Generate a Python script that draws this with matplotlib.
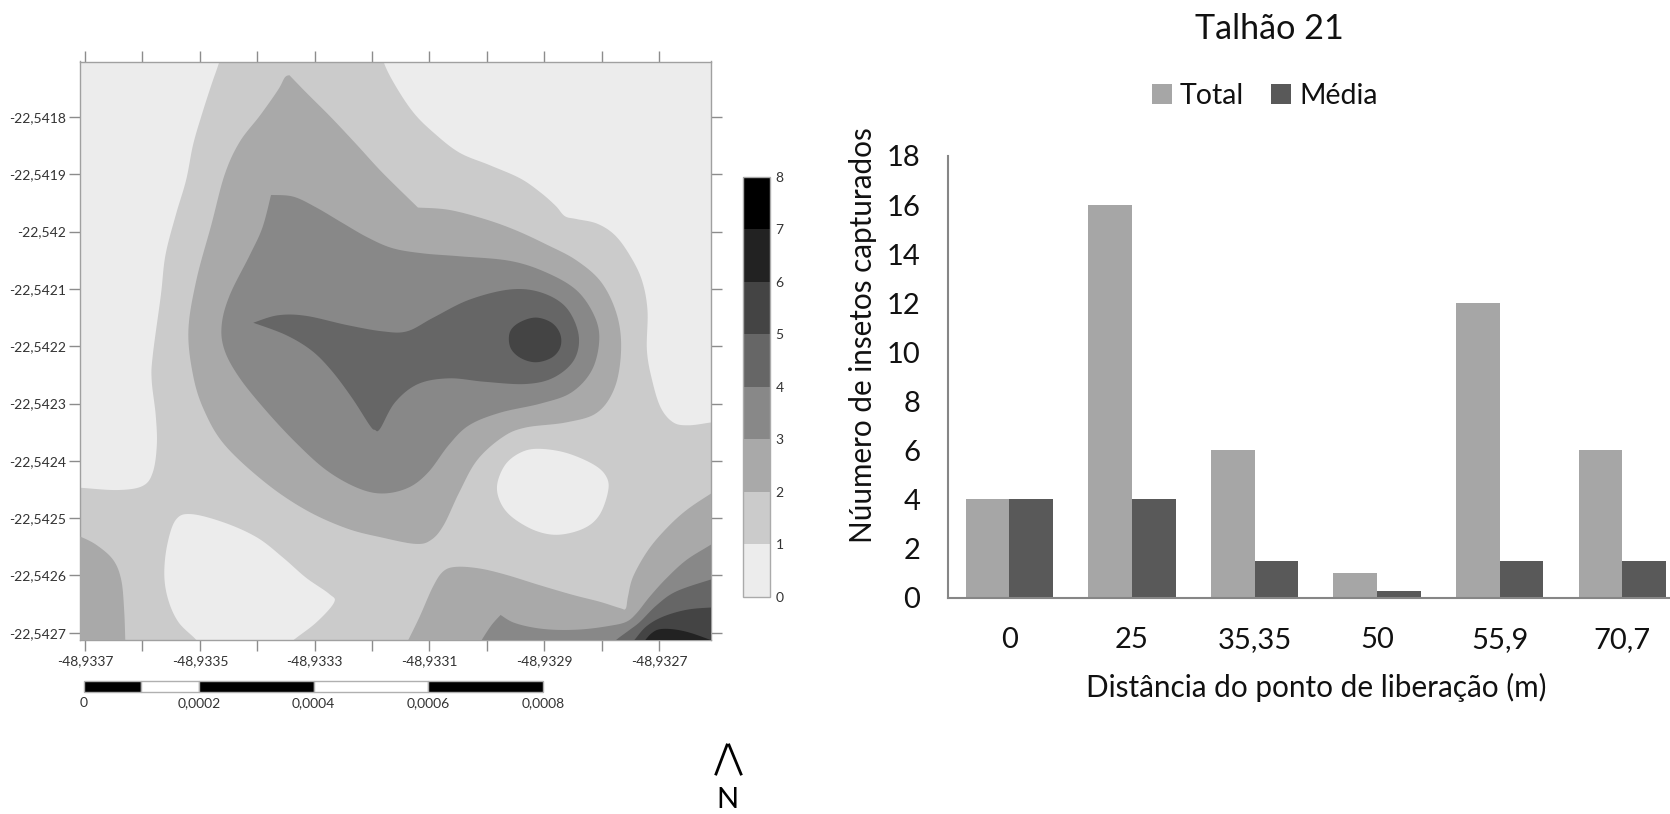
import numpy as np
import matplotlib
matplotlib.use("Agg")
import matplotlib.pyplot as plt
from matplotlib.colors import ListedColormap, BoundaryNorm
from matplotlib.cm import ScalarMappable
from matplotlib.lines import Line2D

plt.rcParams['font.family'] = ['Lato', 'DejaVu Sans']

W, H = 1670, 814

# ---------- bar chart data ----------
distances = ['0', '25', '35,35', '50', '55,9', '70,7']
total = [4, 16, 6, 1, 12, 6]
media = [4, 4, 1.5, 0.25, 1.5, 1.5]

# ---------- map data ----------
LON0, LAT0 = -48.9337, -22.5418   # isoline vertices: millionths of a degree east / south of this origin
lon_labels = {-48.9337: '-48,9337', -48.9335: '-48,9335', -48.9333: '-48,9333',
              -48.9331: '-48,9331', -48.9329: '-48,9329', -48.9327: '-48,9327'}
lon_ticks = [-48.9337, -48.9336, -48.9335, -48.9334, -48.9333, -48.9332,
             -48.9331, -48.9330, -48.9329, -48.9328, -48.9327]
lat_ticks = [-22.5418, -22.5419, -22.5420, -22.5421, -22.5422,
             -22.5423, -22.5424, -22.5425, -22.5426, -22.5427]
lat_labels = ['-22,5418', '-22,5419', '-22,542', '-22,5421', '-22,5422',
              '-22,5423', '-22,5424', '-22,5425', '-22,5426', '-22,5427']
level_edges = [0, 1, 2, 3, 4, 5, 6, 7, 8]
level_colors = ['#ececec', '#cbcbcb', '#a9a9a9', '#888888', '#666666', '#444444', '#222222', '#000000']

below1_nw = [(243,-134),(234,-97),(220,-56),(203,-3),(188,49),(176,110),(158,171),(140,241),(132,311),
             (118,415),(116,459),(123,520),(125,572),(118,620),(100,644),(56,651),(-9,647),(-30,647),(-30,-120)]
below1_ne = [(514,-134),(520,-97),(540,-56),(572,-8),(607,27),(652,62),(705,84),(758,107),(794,132),(820,155),
             (836,173),(856,178),(892,186),(923,206),(949,241),(970,284),(980,337),(979,407),(988,459),(1003,507),
             (1025,533),(1052,538),(1091,533),(1123,529),(1123,-134)]
below1_mid = [(789,579),(838,586),(887,607),(909,629),(911,655),(896,695),(869,718),(825,729),(785,722),
              (745,699),(724,673),(718,642),(732,607),(758,586)]
below1_sw = [(185,693),(158,703),(143,747),(138,799),(145,843),(163,882),(194,913),(207,935),(340,935),(363,913),
             (403,882),(434,847),(425,832),(385,804),(345,769),(300,734),(243,708)]

above2_main = [(356,-73),(356,-73),(385,-43),(429,1),(474,49),(518,97),(580,158),(580,158),(634,162),(696,178),(749,197),
               (803,222),(856,250),(900,289),(927,346),(934,407),(923,472),(892,516),(838,533),(767,542),(727,559),
               (683,599),(652,655),(625,712),(603,738),(576,745),(518,734),(456,718),(385,686),(314,638),(243,572),
               (207,511),(188,450),(180,372),(194,284),(220,188),(243,101),(269,44),(305,-3),(336,-47),(348,-69)]
above2_sw = [(-30,725),(-9,732),(20,747),(49,773),(63,808),(68,860),(70,913),(71,939),(-30,939)]
above2_se = [(554,930),(563,913),(583,872),(606,820),(624,793),(647,785),(688,788),(734,799),(792,817),(850,834),
             (897,846),(932,857),(942,858),(946,837),(955,802),(981,756),(1013,718),(1048,686),(1091,657),(1129,634),
             (1129,950),(554,950)]

above3_main = [(324,136),(324,136),(363,139),(403,158),(447,184),(492,210),(536,229),(589,238),(652,243),(740,251),(803,271),
               (856,302),(887,346),(896,389),(883,442),(847,481),(794,500),(723,516),(669,538),(634,572),(598,620),
               (563,647),(518,657),(474,647),(420,616),(367,568),(314,511),(269,455),(243,407),(238,363),(252,311),
               (287,241),(309,193)]
above3_se = [(682,930),(691,913),(708,887),(724,869),(724,869),(746,882),(781,891),(821,895),(868,894),(914,888),(943,881),
             (961,866),(984,837),(1013,805),(1048,773),(1091,746),(1129,721),(1129,950),(682,950)]

above4_main = [(293,359),(293,359),(336,346),(385,347),(456,363),(518,374),(561,374),(607,350),(669,319),(740,301),(794,306),
               (838,332),(860,380),(852,424),(816,455),(767,466),(696,462),(634,456),(580,466),(540,498),(514,544),
               (505,546),(496,538),(465,490),(429,442),(394,407),(349,380)]
above4_se = [(908,930),(925,913),(949,895),(967,881),(996,852),(1030,828),(1091,807),(1129,796),(1129,950),(908,950)]

above5_oval = [(785,350),(813,359),(828,379),(828,402),(813,420),(785,428),(758,420),(741,402),(740,376),(756,359)]
above5_se = [(943,930),(957,913),(978,889),(1007,872),(1048,860),(1091,856),(1129,855),(1129,950),(943,950)]

above6_se = [(967,924),(976,913),(987,901),(1001,894),(1025,894),(1054,900),(1091,913),(1129,927),(1129,950),(967,950)]

scale_edges = [0, 0.0001, 0.0002, 0.0004, 0.0006, 0.0008]
scale_fills = ['black', 'white', 'black', 'white', 'black']
scale_ticks = [0, 0.0002, 0.0004, 0.0006, 0.0008]
scale_labels = ['0', '0,0002', '0,0004', '0,0006', '0,0008']


def box(l, t, r, b):
    return [l / W, 1 - b / H, (r - l) / W, (b - t) / H]


def smooth(pts, n=10):
    # Closed Catmull-Rom curve through the vertices; a repeated vertex stays a sharp corner.
    p = np.asarray(pts, float)
    m = len(p)
    out = []
    for i in range(m):
        p0, p1, p2, p3 = p[i - 1], p[i], p[(i + 1) % m], p[(i + 2) % m]
        if np.array_equal(p1, p2):
            out.append(p1)
            continue
        for t in np.linspace(0, 1, n, endpoint=False):
            out.append(0.5 * (2 * p1 + (p2 - p0) * t + (2 * p0 - 5 * p1 + 4 * p2 - p3) * t ** 2
                              + (3 * p1 - p0 - 3 * p2 + p3) * t ** 3))
    return np.array(out)


fig = plt.figure(figsize=(W / 100, H / 100), dpi=100, facecolor='white')

# ---------- map ----------
ax = fig.add_axes(box(80, 61.5, 711, 640))
ax.set_facecolor(level_colors[1])
layers = [
    (level_colors[0], [below1_nw, below1_ne, below1_mid, below1_sw]),
    (level_colors[2], [above2_main, above2_sw, above2_se]),
    (level_colors[3], [above3_main, above3_se]),
    (level_colors[4], [above4_main, above4_se]),
    (level_colors[5], [above5_oval, above5_se]),
    (level_colors[6], [above6_se]),
]
for z, (color, polys) in enumerate(layers):
    for poly in polys:
        s = smooth(poly)
        ax.fill(LON0 + s[:, 0] * 1e-6, LAT0 - s[:, 1] * 1e-6, color=color, lw=0, zorder=2 + z)

ax.set_xlim(LON0 - 8.9e-6, LON0 + 1090.7e-6)
ax.set_ylim(LAT0 - 912.7e-6, LAT0 + 96.9e-6)
ax.set_xticks(lon_ticks)
ax.set_xticklabels([lon_labels.get(v, '') for v in lon_ticks])
ax.set_yticks(lat_ticks)
ax.set_yticklabels(lat_labels)
ax.tick_params(axis='both', which='major', length=8, width=1, color='#8c8c8c', labelcolor='#333333',
               labelsize=10, top=True, right=True, direction='out')
ax.tick_params(axis='x', pad=3)
ax.tick_params(axis='y', pad=2)
for sp in ax.spines.values():
    sp.set_color('#a0a0a0')
    sp.set_linewidth(1)

# ---------- colour scale ----------
cax = fig.add_axes(box(743.3, 176.7, 770, 596.7))
cb = fig.colorbar(ScalarMappable(norm=BoundaryNorm(level_edges, len(level_colors)),
                                 cmap=ListedColormap(level_colors)),
                  cax=cax, ticks=level_edges, spacing='proportional')
cb.ax.tick_params(length=0, labelsize=10, labelcolor='#333333', pad=4)
cb.outline.set_edgecolor('#aaaaaa')
cb.outline.set_linewidth(1)

# ---------- scale bar ----------
sax = fig.add_axes(box(84, 681, 543, 691.7))
for a, b, c in zip(scale_edges[:-1], scale_edges[1:], scale_fills):
    sax.barh(0, b - a, left=a, height=1, color=c, edgecolor='#b0b0b0', linewidth=1, clip_on=False)
sax.set_xlim(scale_edges[0], scale_edges[-1])
sax.set_ylim(-0.5, 0.5)
sax.set_yticks([])
sax.set_xticks(scale_ticks)
sax.set_xticklabels(scale_labels)
sax.tick_params(axis='x', length=0, labelsize=10, labelcolor='#333333', pad=4)
for sp in sax.spines.values():
    sp.set_visible(False)

# ---------- north arrow ----------
fig.add_artist(Line2D([716 / W, 727 / W], [1 - 774 / H, 1 - 745 / H], color='black', lw=2))
fig.add_artist(Line2D([729 / W, 741 / W], [1 - 745 / H, 1 - 774 / H], color='black', lw=2))
fig.text(727 / W, 1 - 807.5 / H, 'N', ha='center', va='baseline', fontsize=21, color='black')

# ---------- bars ----------
bx = fig.add_axes(box(948, 156, 1683.6, 597.5))
pos = np.arange(len(distances))
bw = 0.357
bx.bar(pos - bw / 2, total, bw, color='#a6a6a6', label='Total')
bx.bar(pos + bw / 2, media, bw, color='#595959', label='Média')
bx.set_xlim(-0.5, 5.5)
bx.set_ylim(0, 18)
bx.set_yticks(range(0, 19, 2))
bx.set_xticks(pos)
bx.set_xticklabels(distances)
bx.tick_params(axis='both', length=0, labelsize=21, labelcolor='#111111')
bx.tick_params(axis='y', pad=20)
bx.tick_params(axis='x', pad=21)
for side in ('top', 'right'):
    bx.spines[side].set_visible(False)
for side in ('left', 'bottom'):
    bx.spines[side].set_color('#868686')
    bx.spines[side].set_linewidth(1.5)

fig.text(1269 / W, 1 - 29 / H, 'Talhão 21', ha='center', va='center', fontsize=24.6, color='#111111')
fig.text(1316 / W, 1 - 687 / H, 'Distância do ponto de liberação (m)', ha='center', va='center',
         fontsize=21.4, color='#111111')
fig.text(863 / W, 1 - 335 / H, 'Núumero de insetos capturados', ha='center', va='center', rotation=90,
         fontsize=21.3, color='#111111')
bx.legend(loc='center', bbox_to_anchor=(1265 / W, 1 - 96 / H), bbox_transform=fig.transFigure, ncols=2,
          frameon=False, fontsize=20.5, handlelength=0.7, handleheight=0.7, handletextpad=0.3, columnspacing=0.95,
          labelcolor='#111111')

fig.savefig('out.png', dpi=100, facecolor='white')
